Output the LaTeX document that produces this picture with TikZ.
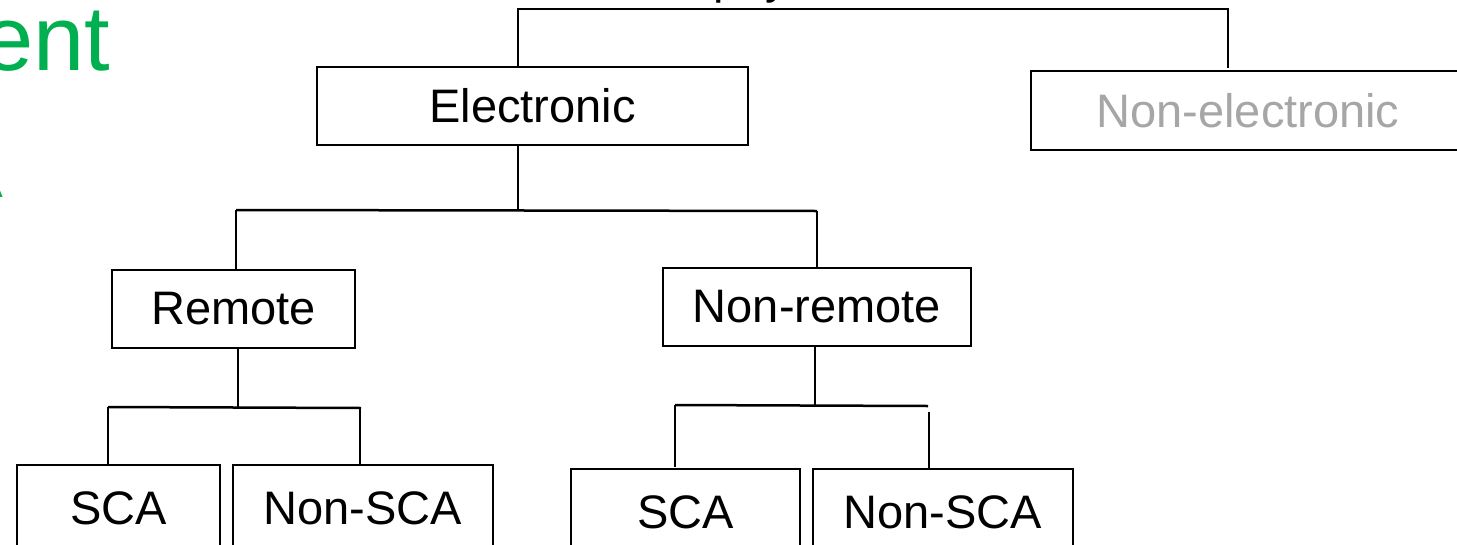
\documentclass[tikz,border=0pt]{standalone}
\usepackage{fontspec}
\setmainfont{Liberation Sans}
\definecolor{titlegreen}{HTML}{00B050}
\definecolor{fadegray}{HTML}{A6A6A6}
\tikzset{
  box/.style={draw=black, line width=2.2pt, rectangle, inner sep=0pt, font=\fontsize{47}{56}\selectfont},
  link/.style={draw=black, line width=2.5pt},
}
\begin{document}
\begin{tikzpicture}[x=1pt,y=-1pt]
\clip (0,0) rectangle (1457,544);
\fill[white] (0,0) rectangle (1457,544);
% fragments of text cut by the frame
\node[anchor=base west, text=titlegreen, font=\fontsize{92}{100}\selectfont, inner sep=0pt] (ttl) at (-18,70) {ent};
\node[anchor=base east, text=titlegreen, font=\fontsize{40}{48}\selectfont, inner sep=0pt] (ttl2) at (3,197) {A};
\node[anchor=base west, font=\fontsize{47}{56}\selectfont, inner sep=0pt] (top) at (713,-7) {pay};
% boxes
\node[box, minimum width=431pt, minimum height=78pt] (el) at (532.5,106) {Electronic};
\node[box, minimum width=434pt, minimum height=79pt, text=fadegray] (ne) at (1248,110.5) {Non-electronic};
\node[box, minimum width=243pt, minimum height=78pt] (re) at (233.5,309) {Remote};
\node[box, minimum width=308pt, minimum height=78pt] (nr) at (817,307) {Non-remote};
\node[box, minimum width=203pt, minimum height=86pt] (sca1) at (118.5,508) {SCA};
\node[box, minimum width=260pt, minimum height=86pt] (nsca1) at (363,508) {Non-SCA};
\node[box, minimum width=229pt, minimum height=86pt] (sca2) at (685.5,512) {SCA};
\node[box, minimum width=260pt, minimum height=86pt] (nsca2) at (943,512) {Non-SCA};
% junction coordinates
\coordinate (a1) at (518,9);
\coordinate (a2) at (1228,9);
\coordinate (a3) at (1228,68);
\coordinate (b0) at (518,210);
\coordinate (b1) at (236,210);
\coordinate (b2) at (817,211);
\coordinate (c0) at (238,407);
\coordinate (c1) at (108,407);
\coordinate (c2) at (360,408);
\coordinate (d0) at (815,405);
\coordinate (d1) at (675,405);
\coordinate (d2) at (929,406);
\coordinate (d3) at (929,412);
% connectors
\draw[link] (el.north -| a1) -- (a1) -- (a2) -- (a3);
\draw[link] (el.south -| b0) -- (b0);
\draw[link] (b1) -- (b2);
\draw[link] (b1) -- (b1 |- re.north);
\draw[link] (b2) -- (b2 |- nr.north);
\draw[link] (re.south -| c0) -- (c0);
\draw[link] (c1) -- (c2 -| 361,0);
\draw[link] (c1) -- (c1 |- sca1.north);
\draw[link] (c2) -- (c2 |- nsca1.north);
\draw[link] (nr.south -| d0) -- (d0);
\draw[link] (d1) -- (d2 -| 928,0);
\draw[link] (d1) -- ([yshift=1pt]d1 |- sca2.north);
\draw[link] (d3) -- ([yshift=-1pt]d3 |- nsca2.north);
\end{tikzpicture}
\end{document}
